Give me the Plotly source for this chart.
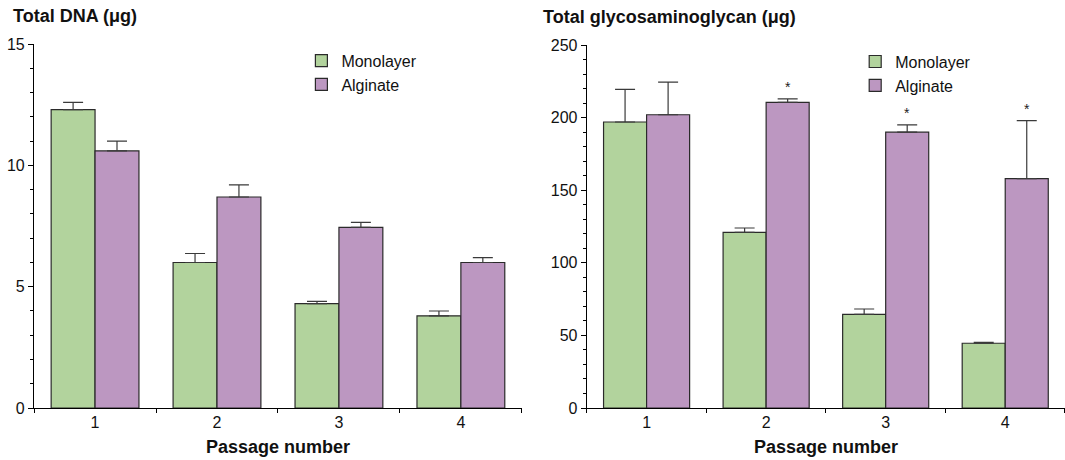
import plotly.graph_objects as go

# Passage categories and measured values (mean and upper error)
passages = ["1", "2", "3", "4"]

dna_monolayer = [12.3, 6.0, 4.3, 3.8]
dna_monolayer_err = [0.3, 0.37, 0.1, 0.2]
dna_alginate = [10.6, 8.7, 7.45, 6.0]
dna_alginate_err = [0.4, 0.5, 0.2, 0.2]

gag_monolayer = [197, 121, 64.5, 44.6]
gag_monolayer_err = [22.5, 3, 3.7, 0.6]
gag_alginate = [202, 210.5, 190, 158]
gag_alginate_err = [22.5, 2.5, 5, 40]
gag_alginate_sig = ["", "*", "*", "*"]

series_names = ["Monolayer", "Alginate"]
GREEN = "#b2d39d"
PURPLE = "#bc97c1"
EDGE = "#2a2a2a"
ERR = "#3a3a3a"
FONT = "Liberation Sans, Arial, sans-serif"
BARGAP = 0.28


def bar(name, y, err, color, xaxis, yaxis, legend):
    return go.Bar(
        name=name, x=passages, y=y,
        marker=dict(color=color, line=dict(color=EDGE, width=1.2)),
        error_y=dict(type="data", array=err, arrayminus=[0] * len(err),
                     symmetric=False, color=ERR, thickness=1.2, width=10),
        xaxis=xaxis, yaxis=yaxis, legend=legend,
    )


fig = go.Figure()
fig.add_trace(bar(series_names[0], dna_monolayer, dna_monolayer_err, GREEN, "x", "y", "legend"))
fig.add_trace(bar(series_names[1], dna_alginate, dna_alginate_err, PURPLE, "x", "y", "legend"))
fig.add_trace(bar(series_names[0], gag_monolayer, gag_monolayer_err, GREEN, "x2", "y2", "legend2"))
fig.add_trace(bar(series_names[1], gag_alginate, gag_alginate_err, PURPLE, "x2", "y2", "legend2"))

# significance markers above the alginate error bars
offset = (1 - BARGAP) / 4
for i, s in enumerate(gag_alginate_sig):
    if s:
        fig.add_annotation(
            x=i + offset, y=gag_alginate[i] + gag_alginate_err[i], xref="x2", yref="y2",
            text=s, showarrow=False, yshift=12, font=dict(size=14, color="#222", family=FONT),
        )

xaxis_common = dict(
    type="category", showline=True, linecolor="black", linewidth=1.2,
    ticks="outside", tickson="boundaries", ticklen=4, tickcolor="black",
    tickfont=dict(size=16, color="#111", family=FONT),
    showgrid=False, zeroline=False, range=[-0.5, 3.5], automargin=False,
    title=dict(text="<b>Passage number</b>", font=dict(size=18, color="#111", family=FONT), standoff=10),
)
yaxis_common = dict(
    showline=True, linecolor="black", linewidth=1.2,
    ticks="outside", ticklen=5, tickcolor="black",
    tickfont=dict(size=16, color="#111", family=FONT),
    showgrid=False, zeroline=False, automargin=False,
)

fig.update_layout(
    width=1065, height=460,
    margin=dict(l=0, r=0, t=0, b=0),
    paper_bgcolor="white", plot_bgcolor="white",
    barmode="group", bargap=BARGAP, bargroupgap=0,
    font=dict(family=FONT, color="#111"),
    xaxis=dict(domain=[0.032, 0.490], anchor="y", **xaxis_common),
    xaxis2=dict(domain=[0.551, 1.0], anchor="y2", **xaxis_common),
    yaxis=dict(domain=[0.113, 0.904], anchor="x", range=[0, 15], tickvals=[0, 5, 10, 15],
               minor=dict(dtick=1, ticks="outside", ticklen=3, tickcolor="black"), **yaxis_common),
    yaxis2=dict(domain=[0.113, 0.902], anchor="x2", range=[0, 250], tickvals=[0, 50, 100, 150, 200, 250],
                minor=dict(dtick=10, ticks="outside", ticklen=3, tickcolor="black"), **yaxis_common),
    legend=dict(x=0.283, y=0.905, xanchor="left", yanchor="top", bgcolor="rgba(0,0,0,0)",
                font=dict(size=16, family=FONT, color="#111"), tracegroupgap=0),
    legend2=dict(x=0.803, y=0.903, xanchor="left", yanchor="top", bgcolor="rgba(0,0,0,0)",
                 font=dict(size=16, family=FONT, color="#111"), tracegroupgap=0),
    showlegend=True,
)

fig.add_annotation(x=0.010, y=0.965, xref="paper", yref="paper", xanchor="left", yanchor="middle",
                   text="<b>Total DNA (μg)</b>", showarrow=False,
                   font=dict(size=18, family=FONT, color="#111"))
fig.add_annotation(x=0.508, y=0.963, xref="paper", yref="paper", xanchor="left", yanchor="middle",
                   text="<b>Total glycosaminoglycan (μg)</b>", showarrow=False,
                   font=dict(size=18, family=FONT, color="#111"))

fig.write_html("out.html")
